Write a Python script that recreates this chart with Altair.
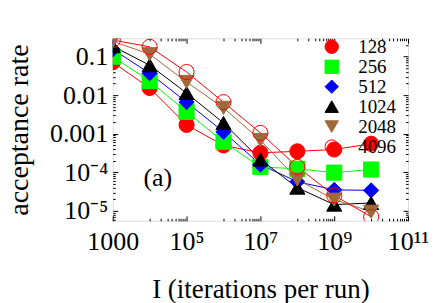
import altair as alt
import pandas as pd

# ---- data ----
iterations = [1e3, 1e4, 1e5, 1e6, 1e7, 1e8, 1e9, 1e10]
series_names = ["128", "256", "512", "1024", "2048", "4096"]
rate_128 = [0.072, 0.0154, 0.0017, 0.0005, 0.00032, 0.00035, 0.00039, 0.00055]
rate_256 = [0.10, 0.0232, 0.0037, 0.00062, 0.000138, 0.000123, 0.000098, 0.000118]
rate_512 = [0.155, 0.037, 0.0066, 0.00112, 0.000158, 0.000057, 0.000035, 0.000034]
rate_1024 = [0.187, 0.060, 0.0114, 0.0019, 0.000214, 0.00004, 0.0000145, 0.000016]
rate_2048 = [0.25, 0.116, 0.022, 0.0047, 0.00069, 0.000065, 0.0000195, 0.0000095]
rate_4096 = [0.27, 0.18, 0.04, 0.0066, 0.00105, 0.000138, 0.000025, 0.000007]
all_rates = [rate_128, rate_256, rate_512, rate_1024, rate_2048, rate_4096]

fill_colors = ["#ff0000", "#00ff00", "#0000ff", "#000000", "#a0693c", "transparent"]
stroke_colors = ["#ff0000", "#00ff00", "#0000ff", "#000000", "#a0693c", "#ff0000"]
shapes = ["circle", "square", "diamond", "triangle-up", "triangle-down", "circle"]

x_major = [1e3, 1e5, 1e7, 1e9, 1e11]
x_major_labels = ["1000", "10⁵", "10⁷", "10⁹", "10¹¹"]
y_major = [1e-5, 1e-4, 1e-3, 1e-2, 1e-1]
y_major_labels = ["10⁻⁵", "10⁻⁴", "0.001", "0.01", "0.1"]
x_minor = [m * 10.0 ** (k + 1) for k in (3, 5, 7, 9) for m in range(1, 10)]
y_minor = [m * 10.0 ** k for k in range(-6, 0) for m in range(2, 10) if 5.5e-6 <= m * 10.0 ** k <= 0.3]

panel_label = ["(a)"]
panel_label_x = [1.66e4]
panel_label_y = [7.2e-5]

x_title = "I (iterations per run)"
y_title = "acceptance rate"

line_ids = ["line " + s for s in series_names]
rows = []
for name, lid, rates in zip(series_names, line_ids, all_rates):
    for it, r in zip(iterations, rates):
        rows.append({"N": name, "L": lid, "iterations": it, "rate": r})
df = pd.DataFrame(rows)
lab_df = pd.DataFrame({"t": panel_label, "x": panel_label_x, "y": panel_label_y})

FONT = "Liberation Serif"
xscale = alt.Scale(type="log", domain=[1e3, 1e11], nice=False)
yscale = alt.Scale(type="log", domain=[5.5e-6, 0.3], nice=False)


def label_expr(values, labels):
    expr = "''"
    for v, l in reversed(list(zip(values, labels))):
        expr = f"datum.value == {v!r} ? '{l}' : ({expr})"
    return expr


def inner_axis(orient, values, size, **kw):
    return alt.Axis(orient=orient, values=values, tickSize=size, offset=-size,
                    domain=False, grid=False, tickColor="black", tickWidth=1, **kw)


no_lab = dict(labels=False, title=None)

lines = alt.Chart(df).mark_line(clip=True, strokeWidth=1).encode(
    x=alt.X("iterations:Q", scale=xscale,
            axis=inner_axis("bottom", x_major, 5, labelExpr=label_expr(x_major, x_major_labels),
                            labelFont=FONT, labelFontSize=26, labelColor="black", labelPadding=8,
                            labelFlush=False, labelOverlap=False,
                            title=x_title, titleFont=FONT, titleFontSize=27, titleFontWeight="normal",
                            titleColor="black", titlePadding=22)),
    y=alt.Y("rate:Q", scale=yscale,
            axis=inner_axis("left", y_major, 5, labelExpr=label_expr(y_major, y_major_labels),
                            labelFont=FONT, labelFontSize=26, labelColor="black", labelPadding=5,
                            labelFlush=False, labelOverlap=False,
                            title=y_title, titleFont=FONT, titleFontSize=28, titleFontWeight="normal",
                            titleColor="black", titlePadding=16)),
    color=alt.Color("L:N", scale=alt.Scale(domain=line_ids, range=stroke_colors), legend=None),
)

leg = alt.Legend(orient="none", legendX=210, legendY=1, title=None, labelFont=FONT,
                 labelFontSize=19, labelColor="black", symbolSize=180, symbolStrokeWidth=1,
                 clipHeight=15, rowPadding=0, labelOffset=17, padding=0)

points = alt.Chart(df).mark_point(clip=True, opacity=1, strokeWidth=1, size=230).encode(
    x=alt.X("iterations:Q", scale=xscale, axis=inner_axis("top", x_major, 5, **no_lab)),
    y=alt.Y("rate:Q", scale=yscale, axis=inner_axis("right", y_major, 5, **no_lab)),
    shape=alt.Shape("N:N", scale=alt.Scale(domain=series_names, range=shapes), legend=leg),
    fill=alt.Fill("N:N", scale=alt.Scale(domain=series_names, range=fill_colors), legend=leg),
    stroke=alt.Stroke("N:N", scale=alt.Scale(domain=series_names, range=stroke_colors), legend=leg),
)

minor_a = alt.Chart(df).mark_point(opacity=0).encode(
    x=alt.X("iterations:Q", scale=xscale, axis=inner_axis("bottom", x_minor, 2.5, **no_lab)),
    y=alt.Y("rate:Q", scale=yscale, axis=inner_axis("left", y_minor, 2.5, **no_lab)),
)
minor_b = alt.Chart(df).mark_point(opacity=0).encode(
    x=alt.X("iterations:Q", scale=xscale, axis=inner_axis("top", x_minor, 2.5, **no_lab)),
    y=alt.Y("rate:Q", scale=yscale, axis=inner_axis("right", y_minor, 2.5, **no_lab)),
)

text = alt.Chart(lab_df).mark_text(font=FONT, fontSize=26, color="black").encode(
    x=alt.X("x:Q", scale=xscale, axis=None),
    y=alt.Y("y:Q", scale=yscale, axis=None),
    text="t:N",
)

chart = alt.layer(lines, points, minor_a, minor_b, text).resolve_axis(
    x="independent", y="independent"
).properties(
    width=296, height=183, autosize="none",
    padding={"left": 105, "top": 30, "right": 20, "bottom": 82},
).configure_view(stroke="black", strokeWidth=1).configure(font=FONT, background="white")

chart.save("out.html", embed_options={"renderer": "svg", "actions": False})
